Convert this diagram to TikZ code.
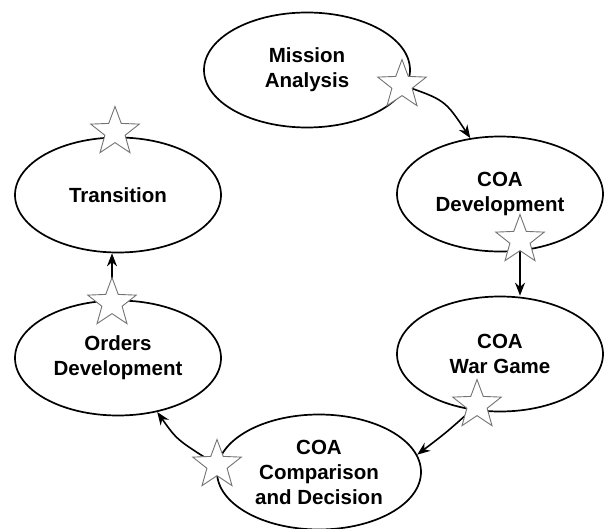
\documentclass[tikz,border=0pt]{standalone}
\usepackage{fontspec}
\setmainfont{Liberation Sans}
\usetikzlibrary{shapes.geometric,arrows.meta}
\begin{document}
\begin{tikzpicture}[x=1pt,y=-1pt,
 phase/.style={ellipse,draw,line width=1.7pt,minimum width=206pt,minimum height=115pt,inner sep=0pt,align=center,font=\fontsize{20.5}{25}\selectfont\bfseries},
 starmark/.style={star,star points=5,star point ratio=2.4,minimum size=51pt,inner sep=0pt,draw=black!55,fill=white,line width=0.9pt},
 arr/.style={line width=1.6pt,-{Stealth[length=13pt,width=10pt]}}]
\useasboundingbox (0,0) rectangle (605,529);
\node[phase] (ma) at (307,70) {Mission\\Analysis};
\node[phase] (cd) at (500,194) {COA\\Development};
\node[phase] (wg) at (500,354) {COA\\War Game};
\node[phase,minimum width=204pt] (cmp) at (319,472) {COA\\Comparison\\and Decision};
\node[phase] (od) at (118,358) {Orders\\Development};
\node[phase] (tr) at (118,195) {Transition};
\coordinate (p1) at (402,85);
\coordinate (p2) at (520,240);
\coordinate (p3) at (477,405);
\coordinate (p4) at (217,465);
\coordinate (p5) at (112,303);
\coordinate (p6) at (115,132);
\draw[arr] (p1) .. controls (445,100) .. (cd.118);
\draw[arr] (p2) -- (p2 |- wg.north);
\draw[arr] (p3) .. controls (447,432) .. (cmp.10);
\draw[arr] (p4) .. controls (177,440) .. (od.-54);
\draw[arr] (p5) -- (p5 |- tr.south);
\node[starmark] (s1) at (p1) {};
\node[starmark] (s2) at (p2) {};
\node[starmark] (s3) at (p3) {};
\node[starmark] (s4) at (p4) {};
\node[starmark] (s5) at (p5) {};
\node[starmark] (s6) at (p6) {};
\end{tikzpicture}
\end{document}
